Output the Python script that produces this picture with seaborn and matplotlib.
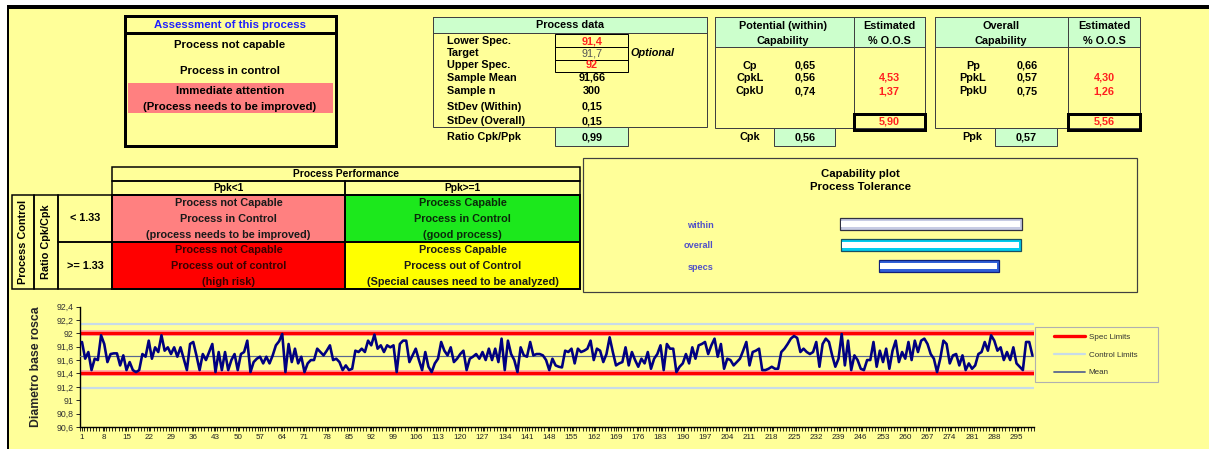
import numpy as np
import pandas as pd
import matplotlib
matplotlib.use("Agg")
import matplotlib.pyplot as plt
from matplotlib.patches import Rectangle
from matplotlib.lines import Line2D
from matplotlib.legend_handler import HandlerLine2D
import seaborn as sns

# ---------------- data ----------------
diam_part1 = [91.87, 91.62, 91.72, 91.45, 91.62, 91.60, 91.97, 91.84, 91.57, 91.69,
              91.70, 91.70, 91.52, 91.67, 91.45, 91.57, 91.45, 91.42, 91.45, 91.69,
              91.65, 91.89, 91.62, 91.79, 91.72, 91.97, 91.74, 91.79, 91.69, 91.79,
              91.65, 91.79, 91.62, 91.45, 91.84, 91.87, 91.67, 91.45, 91.69, 91.60,
              91.72, 91.84, 91.42, 91.72, 91.45, 91.72, 91.45, 91.60, 91.69, 91.45,
              91.69, 91.72, 91.89, 91.42, 91.57, 91.62, 91.65, 91.55, 91.65, 91.55,
              91.67, 91.82, 91.88, 91.99, 91.42, 91.84, 91.57, 91.77, 91.55, 91.65,
              91.42, 91.55, 91.60, 91.60, 91.77]
diam_part2 = [91.72, 91.67, 91.74, 91.82, 91.60, 91.62, 91.57, 91.45, 91.52, 91.45,
              91.47, 91.74, 91.72, 91.77, 91.72, 91.89, 91.82, 91.98, 91.77, 91.82,
              91.72, 91.82, 91.79, 91.82, 91.42, 91.84, 91.89, 91.89, 91.57, 91.67,
              91.77, 91.60, 91.45, 91.72, 91.50, 91.42, 91.55, 91.62, 91.87, 91.74,
              91.67, 91.79, 91.57, 91.62, 91.69, 91.74, 91.45, 91.62, 91.65, 91.69,
              91.62, 91.72, 91.60, 91.77, 91.60, 91.77, 91.57, 91.92, 91.45, 91.89,
              91.69, 91.60, 91.42, 91.79, 91.67, 91.65, 91.87, 91.67, 91.69, 91.69,
              91.67, 91.60, 91.45, 91.62, 91.52, 91.50]
diam_part3 = [91.49, 91.74, 91.72, 91.77, 91.55, 91.77, 91.72, 91.74, 91.77, 91.89,
              91.60, 91.77, 91.74, 91.57, 91.69, 91.94, 91.72, 91.52, 91.55,
              91.57, 91.79, 91.52, 91.72, 91.60, 91.50, 91.62, 91.55, 91.72, 91.47,
              91.62, 91.69, 91.82, 91.45, 91.84, 91.77, 91.77, 91.42, 91.50, 91.55,
              91.69, 91.55, 91.79, 91.62, 91.82, 91.84, 91.87, 91.69, 91.82, 91.92,
              91.65, 91.84, 91.47, 91.62, 91.60, 91.52, 91.57, 91.62, 91.74, 91.87,
              91.52, 91.72, 91.74, 91.77, 91.45, 91.45, 91.47, 91.50, 91.47,
              91.47, 91.72, 91.77, 91.84, 91.92, 91.96, 91.93]
diam_part4 = [91.72, 91.77, 91.72, 91.69, 91.72, 91.87, 91.50, 91.84, 91.92, 91.87,
              91.67, 91.50, 91.62, 91.99, 91.52, 91.89, 91.45, 91.67, 91.60, 91.47,
              91.45, 91.60, 91.60, 91.87, 91.50, 91.74, 91.57, 91.77, 91.47, 91.74,
              91.89, 91.57, 91.72, 91.62, 91.87, 91.60, 91.89, 91.72, 91.89, 91.92,
              91.84, 91.69, 91.62, 91.42, 91.62, 91.89, 91.84, 91.55, 91.67, 91.69,
              91.52, 91.67, 91.45, 91.55, 91.47, 91.52, 91.69, 91.72, 91.87, 91.74,
              91.97, 91.89, 91.74, 91.79,
              91.60, 91.72, 91.60, 91.79, 91.55, 91.50, 91.45, 91.87, 91.87, 91.67]
diam_values = diam_part1 + diam_part2 + diam_part3 + diam_part4

lower_spec = 91.4
upper_spec = 92.0
sample_mean = 91.66
control_limits = [91.18, 92.14]

y_tick_values = [90.6, 90.8, 91.0, 91.2, 91.4, 91.6, 91.8, 92.0, 92.2, 92.4]
y_tick_labels = ["90,6", "90,8", "91", "91,2", "91,4", "91,6", "91,8", "92", "92,2", "92,4"]
x_tick_values = list(range(1, 301, 7))

cap_categories = ["within", "overall", "specs"]
cap_low = [91.205, 91.21, 91.40]
cap_high = [92.115, 92.11, 92.00]

process_labels = ["Lower Spec.", "Target", "Upper Spec.", "Sample Mean", "Sample n",
                  "StDev (Within)", "StDev (Overall)"]
process_values = ["91,4", "91,7", "92", "91,66", "300", "0,15", "0,15"]
ratio_value = "0,99"
within_names = ["Cp", "CpkL", "CpkU"]
within_vals = ["0,65", "0,56", "0,74"]
within_oos = ["4,53", "1,37"]
within_total = "5,90"
cpk_value = "0,56"
overall_names = ["Pp", "PpkL", "PpkU"]
overall_vals = ["0,66", "0,57", "0,75"]
overall_oos = ["4,30", "1,26"]
overall_total = "5,56"
ppk_value = "0,57"

# ---------------- style ----------------
sns.set_style("ticks")
plt.rcParams["font.family"] = ["Liberation Sans", "DejaVu Sans"]

W, H = 1209, 449
PX = 0.72
YEL = "#FFFF99"
GRN = "#CCFFCC"
FS = 7.8

fig = plt.figure(figsize=(W / 100, H / 100), dpi=100, facecolor="white")
bg = fig.add_axes([0, 0, 1, 1])
bg.set_xlim(0, W)
bg.set_ylim(H, 0)
bg.axis("off")


def box(x0, y0, x1, y1, fc="none", ec="#404040", lw=1.0, z=2):
    bg.add_patch(Rectangle((x0, y0), x1 - x0, y1 - y0, facecolor=fc,
                           edgecolor=ec, linewidth=lw * PX, zorder=z))


def line(xs, ys, color="black", lw=1.0, z=3):
    bg.plot(xs, ys, color=color, lw=lw * PX, solid_capstyle="butt", zorder=z)


def txt(x, y, s, size=FS, weight="bold", color="black", ha="center",
        style="normal", rot=0):
    bg.text(x, y, s, fontsize=size, fontweight=weight, color=color, ha=ha,
            va="center", style=style, rotation=rot, zorder=6)


# page background and frame
box(7, 6, W + 5, H + 5, fc=YEL, ec="none", z=0)
line([7, W], [6.5, 6.5], lw=4)
line([7.5, 7.5], [5, H], lw=2)

# ---- Assessment box ----
box(128, 83, 333, 113, fc="#FF8080", ec="none", z=1)
box(125, 16, 336, 146, ec="black", lw=3)
line([125, 336], [33, 33], lw=3)
txt(230, 24.5, "Assessment of this process", size=8.2, color="#2020FF")
txt(230, 45.5, "Process not capable", size=8.2)
txt(230, 71, "Process in control", size=8.2)
txt(230, 91, "Immediate attention", size=8.2)
txt(230, 107, "(Process needs to be improved)", size=8.2)

# ---- Process data ----
box(433, 17, 707, 33, fc=GRN)
box(433, 17, 707, 127)
txt(570, 25, "Process data")
label_y = [41, 53.3, 64.5, 77.7, 91, 106.5, 121]
for lbl, val, yy in zip(process_labels, process_values, label_y):
    txt(447, yy, lbl, ha="left")
    if lbl in ("Lower Spec.", "Upper Spec."):
        txt(592, yy, val, color="#FF2020")
    elif lbl == "Target":
        txt(592, yy, val, weight="normal", color="#555555")
    else:
        txt(592, yy, val)
box(555, 34, 628, 47.3, ec="black")
box(555, 47.3, 628, 60, ec="black")
box(555, 60, 628, 72, ec="black")
txt(630, 53.3, "Optional", ha="left", style="italic")
box(555, 127, 628, 146, fc=GRN)
txt(447, 137, "Ratio Cpk/Ppk", ha="left")
txt(592, 137, ratio_value)

# ---- Potential (within) capability ----
box(715, 17, 925, 47, fc=GRN)
box(715, 17, 925, 128)
line([854, 854], [17, 128], color="#404040")
txt(783, 25.7, "Potential (within)")
txt(783, 40.7, "Capability")
txt(889, 25.7, "Estimated")
txt(889, 40.7, "% O.O.S")
for nm, vl, yy in zip(within_names, within_vals, [65.7, 77.7, 91]):
    txt(750, yy, nm)
    txt(805, yy, vl)
for vl, yy in zip(within_oos, [77.7, 91]):
    txt(889, yy, vl, color="#FF2020")
box(854, 114, 925, 130, ec="black", lw=3, z=4)
txt(889, 122, within_total, color="#FF2020")
box(774, 128, 835, 146, fc=GRN)
txt(750, 137, "Cpk")
txt(805, 137, cpk_value)

# ---- Overall capability ----
box(935, 17, 1140, 47, fc=GRN)
box(935, 17, 1140, 128)
line([1068, 1068], [17, 128], color="#404040")
txt(1001, 25.7, "Overall")
txt(1001, 40.7, "Capability")
txt(1104, 25.7, "Estimated")
txt(1104, 40.7, "% O.O.S")
for nm, vl, yy in zip(overall_names, overall_vals, [65.7, 77.7, 91]):
    txt(973, yy, nm)
    txt(1027, yy, vl)
for vl, yy in zip(overall_oos, [77.7, 91]):
    txt(1104, yy, vl, color="#FF2020")
box(1068, 114, 1140, 130, ec="black", lw=3, z=4)
txt(1104, 122, overall_total, color="#FF2020")
box(995, 128, 1057, 146, fc=GRN)
txt(972, 137, "Ppk")
txt(1026, 137, ppk_value)

# ---- Process performance matrix ----
box(112, 167, 580, 181, ec="black", lw=1.5)
txt(346, 174, "Process Performance", size=7.4)
box(112, 181, 345, 195, ec="black", lw=1.5)
box(345, 181, 580, 195, ec="black", lw=1.5)
txt(228, 188, "Ppk<1", size=7.4)
txt(462, 188, "Ppk>=1", size=7.4)
box(12, 195, 34, 289, ec="black", lw=1.5)
box(34, 195, 58, 289, ec="black", lw=1.5)
box(58, 195, 112, 242, ec="black", lw=1.5)
box(58, 242, 112, 289, ec="black", lw=1.5)
txt(23, 242, "Process Control", rot=90)
txt(46, 242, "Ratio Cpk/Cpk", rot=90)
txt(85, 218, "< 1.33")
txt(85, 266, ">= 1.33")
cells = [
    (112, 195, 345, 242, "#FF8080", "#1A1A1A",
     ["Process not Capable", "Process in Control", "(process needs to be improved)"]),
    (345, 195, 580, 242, "#1CE81C", "#0A2A0A",
     ["Process Capable", "Process in Control", "(good process)"]),
    (112, 242, 345, 289, "#FF0000", "#3A0000",
     ["Process not Capable", "Process out of control", "(high risk)"]),
    (345, 242, 580, 289, "#FFFF00", "#1A1A1A",
     ["Process Capable", "Process out of Control", "(Special causes need to be analyzed)"]),
]
for x0, y0, x1, y1, fc, tc, lines in cells:
    box(x0, y0, x1, y1, fc=fc, ec="black", lw=2)
    for k, s in enumerate(lines):
        txt((x0 + x1) / 2, y0 + 8 + k * 15.8, s, color=tc)

# ---- Capability plot ----
box(583, 158, 1137, 292, ec="#404040", lw=1.2)
txt(860, 174, "Capability plot", size=8.2)
txt(860, 187, "Process Tolerance", size=8.2)

capax = fig.add_axes([720 / W, 1 - 276.5 / H, 410 / W, 63 / H])
capax.set_facecolor("none")
pos = np.arange(len(cap_categories))
widths = np.subtract(cap_high, cap_low)
outer_colors = ["#C8CCE4", "#00CCEE", "#2F5FD8"]
edge_colors = ["#303040", "#1A5060", "#10207A"]
capax.barh(pos, widths, left=cap_low, height=0.57, color=outer_colors,
           edgecolor=edge_colors, linewidth=0.9)
capax.barh(pos - 0.02, widths - 0.012, left=np.add(cap_low, 0.004), height=0.28,
           color="white", linewidth=0)
capax.set_xlim(90.6, 92.66)
capax.set_ylim(2.5, -0.5)
capax.set_yticks(pos)
capax.set_yticklabels(cap_categories, fontsize=6.6, fontweight="bold", color="#5050C8")
capax.set_xticks([])
capax.tick_params(axis="y", length=0, pad=4.5)
for sp in capax.spines.values():
    sp.set_visible(False)

# ---- Control chart ----
df = pd.DataFrame({"Sample": np.arange(1, len(diam_values) + 1),
                   "Diameter": diam_values})
ax = fig.add_axes([80.4 / W, 1 - 427 / H, (1034 - 80.4) / W, (427 - 306.5) / H])
ax.set_facecolor("none")
for lim in control_limits:
    ax.axhline(lim, color="#C8DCE8", lw=2.2 * PX, zorder=1)
for lim in (lower_spec, upper_spec):
    ax.axhline(lim, color="#FFB0A8", lw=6 * PX, zorder=2)
    ax.axhline(lim, color="#FF0000", lw=3.4 * PX, zorder=2.5)
ax.axhline(sample_mean, color="#5A6890", lw=1.2 * PX, zorder=3)
sns.lineplot(data=df, x="Sample", y="Diameter", color="#000080",
             linewidth=2.6 * PX, ax=ax, zorder=4)
ax.set_xlim(0.5, 300.5)
ax.set_ylim(90.6, 92.4)
ax.set_xticks(x_tick_values)
ax.set_xticklabels([str(v) for v in x_tick_values], fontsize=5.8, color="#222222")
ax.set_xticks(np.arange(0.5, 301, 1), minor=True)
ax.tick_params(axis="x", which="both", direction="out", length=3, width=0.6,
               color="black", bottom=True, pad=2)
ax.set_yticks(y_tick_values)
ax.set_yticklabels(y_tick_labels, fontsize=6.3, color="#333333")
ax.tick_params(axis="y", direction="out", length=3, width=0.7, left=True, pad=2)
for s in ("top", "right"):
    ax.spines[s].set_visible(False)
for s in ("left", "bottom"):
    ax.spines[s].set_color("black")
    ax.spines[s].set_linewidth(1.0)
ax.set_xlabel("")
ax.set_ylabel("Diametro base rosca", fontsize=8.8, fontweight="bold")
ax.yaxis.set_label_coords(-0.040, 0.5)

handles = [Line2D([], [], color="#FF0000", lw=2.4),
           Line2D([], [], color="#C8DCE8", lw=1.6),
           Line2D([], [], color="#5A6890", lw=1.3)]
shifted = HandlerLine2D(xpad=1.6)
leg = ax.legend(handles, ["Spec Limits", "Control Limits", "Mean"],
                loc="upper left",
                bbox_to_anchor=(1035 / W, 1 - 381 / H, 123 / W, 54 / H),
                bbox_transform=fig.transFigure, mode="expand",
                fontsize=5.8, frameon=True, fancybox=False, facecolor=YEL,
                edgecolor="#B0B0B0", framealpha=1, handlelength=5.4,
                handletextpad=0.5, labelspacing=1.27, borderpad=0.75,
                borderaxespad=0, handler_map={Line2D: shifted})
leg.get_frame().set_linewidth(0.8)
for t in leg.get_texts():
    t.set_color("#333333")

fig.savefig("out.png", dpi=100, facecolor="white")
